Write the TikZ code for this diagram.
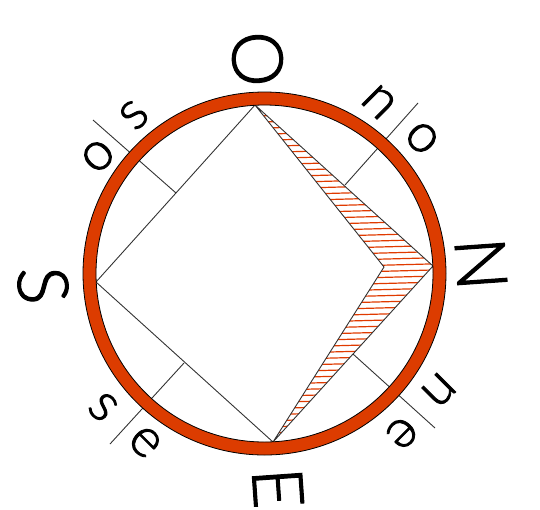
\documentclass[tikz,border=0pt]{standalone}
\usepackage{fontspec}
\setmainfont{Lato Light}[UprightFeatures={FakeBold=1.6}]
\usepackage{xcolor}
\definecolor{RngF}{HTML}{DC3C00}
\definecolor{HchD}{HTML}{E03A00}
\definecolor{LinD}{HTML}{333333}
\tikzset{
  EDG/.style={line width=0.9pt, color=LinD, line join=miter},
  HCH/.style={line width=1.2pt, color=HchD},
  RNG/.style={draw=black, fill=RngF, line width=0.8pt, even odd rule},
  BIG/.style={font=\fontsize{70}{70}\selectfont, inner sep=0pt, rotate=#1},
  SML/.style={font=\fontsize{54}{54}\selectfont, inner sep=0pt, rotate=#1},
}
\begin{document}
\begin{tikzpicture}[x=1pt,y=-1pt]
\useasboundingbox (0,0) rectangle (540,509);

%================ POINTS =================
\coordinate (ctr) at (264.5,273.5);
\coordinate (ptO) at (255,105);
\coordinate (ptN) at (433,266);
\coordinate (ptE) at (273,442);
\coordinate (ptS) at (96,282);
\coordinate (ptI) at (384,267);

\coordinate (noA) at (345,185);
\coordinate (noB) at (418,103);
\coordinate (neA) at (353,354);
\coordinate (neB) at (435,428);
\coordinate (seA) at (184,363);
\coordinate (seB) at (110,444);
\coordinate (soA) at (176,193);
\coordinate (soB) at (93,120);

%================ HATCHING =================
\begin{scope}
\clip (ptO)--(ptN)--(ptE)--(ptI)--cycle;
\foreach \yy in {0,...,57}
  \draw[HCH] (250,{104+6.1*\yy}) -- (440,{99+6.1*\yy});
\end{scope}

%================ EDGES =================
\draw[EDG] (ptO)--(ptN)--(ptE)--(ptI)--cycle;
\draw[EDG] (ptO)--(ptS)--(ptE);

\draw[EDG] (noA)--(noB);
\draw[EDG] (neA)--(neB);
\draw[EDG] (seA)--(seB);
\draw[EDG] (soA)--(soB);

%================ RING =================
\path[RNG] (ctr) circle[radius=181.5] (ctr) circle[radius=168.5];

%================ LABELS =================
\node[BIG=-86] (lblO) at (257.5,59) {O};
\node[BIG=-86] (lblN) at (481,264) {N};
\node[BIG=-86] (lblE) at (278,488) {E};
\node[BIG=-86] (lblS) at (43,285.5) {S};

\node[SML=-45] (lblNn) at (379,102) {n};
\node[SML=-45] (lblNo) at (422,138) {o};
\node[SML=-135] (lblEn) at (439,390) {n};
\node[SML=-135] (lblEe) at (402,433) {e};
\node[SML=-45] (lblSs) at (103,407) {s};
\node[SML=-45] (lblSe) at (145,442) {e};
\node[SML=45] (lblOo) at (98,156) {o};
\node[SML=45] (lblOs) at (134,115) {s};

\end{tikzpicture}
\end{document}
